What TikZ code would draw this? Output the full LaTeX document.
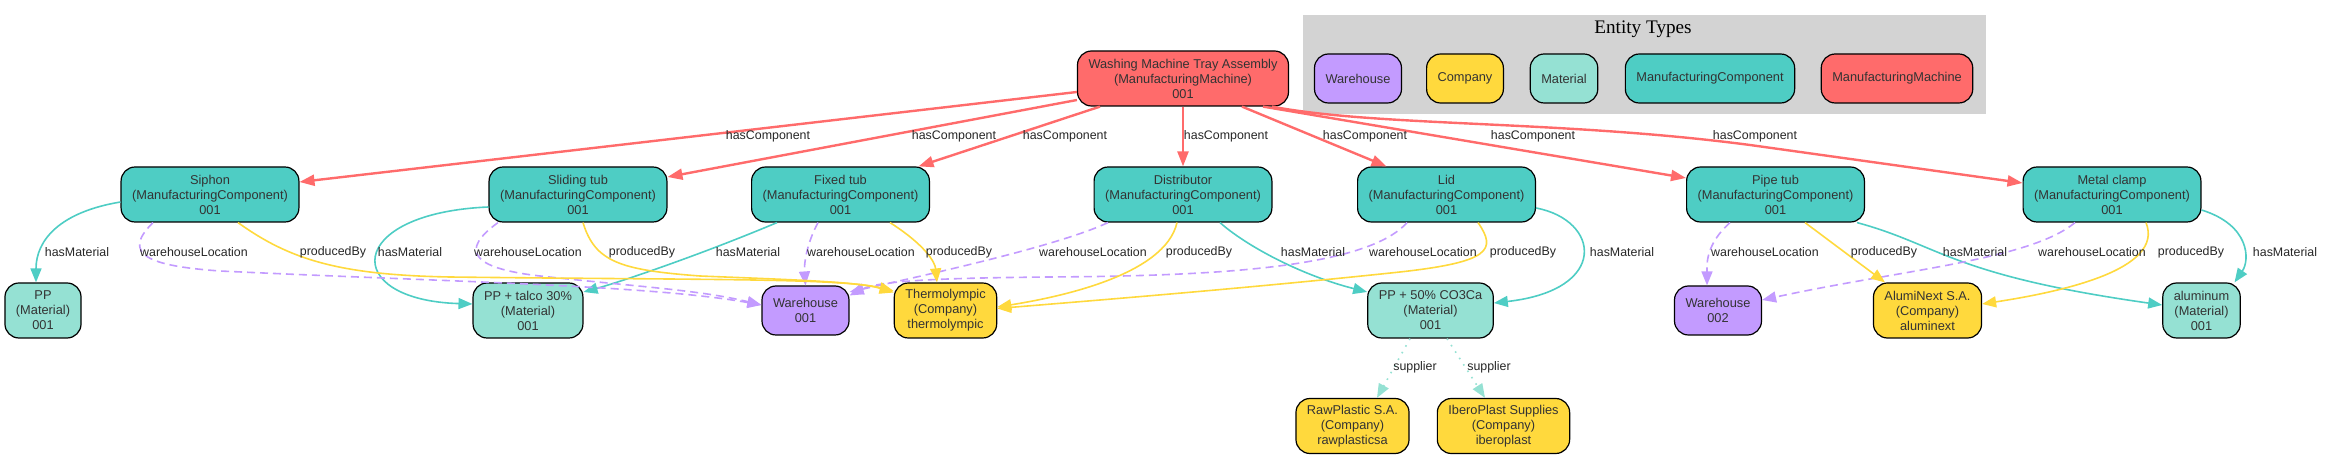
\documentclass[tikz,border=0pt]{standalone}
\usepackage{fontspec}
\setmainfont{Liberation Sans}
\newfontfamily\titleserif{Liberation Serif}
\usetikzlibrary{arrows.meta}
\definecolor{machinered}{HTML}{FF6B6B}
\definecolor{compteal}{HTML}{4ECDC4}
\definecolor{matgreen}{HTML}{95E1D3}
\definecolor{firmyellow}{HTML}{FFD93D}
\definecolor{storepurple}{HTML}{C39BFF}
\definecolor{legendgray}{HTML}{D3D3D3}
\definecolor{textgray}{HTML}{333333}
\newcommand\entfont{\fontsize{6.4}{7.5}\selectfont}
\newcommand\lblfont{\fontsize{6.2}{7}\selectfont}

\tikzset{
  entity/.style={draw=black, line width=0.6pt, rounded corners=7pt, align=center,
    font=\entfont, text=textgray, inner xsep=5.5pt, inner ysep=0pt, minimum height=27.5pt},
  machine/.style={entity, fill=machinered},
  part/.style={entity, fill=compteal},
  material/.style={entity, fill=matgreen},
  firm/.style={entity, fill=firmyellow},
  store/.style={entity, fill=storepurple, minimum height=24.5pt},
  lbl/.style={font=\lblfont, text=black!85, inner sep=0.5pt},
  hascomp/.style={draw=machinered, line width=1.2pt, -{Triangle[length=7.5pt,width=5.5pt]}},
  hasmat/.style={draw=compteal, line width=0.8pt, -{Triangle[length=7pt,width=5.5pt]}},
  whloc/.style={draw=storepurple, line width=0.8pt, dash pattern=on 4pt off 2.5pt, -{Triangle[length=7pt,width=5.5pt]}},
  prodby/.style={draw=firmyellow, line width=0.8pt, -{Triangle[length=7pt,width=5.5pt]}},
  suppl/.style={draw=matgreen, line width=0.8pt, dash pattern=on 0.8pt off 3pt, -{Triangle[length=7pt,width=5.5pt]}},
}

\begin{document}
\begin{tikzpicture}[x=0.5pt,y=-0.5pt]
\useasboundingbox (0,0) rectangle (2325,459);

% Legend
\fill[legendgray] (1303,15) rectangle (1986,114);
\node[font={\titleserif\fontsize{9.6}{11}\selectfont}, text=black] (lgtitle) at (1643,29) {Entity Types};
\foreach \s/\x/\t in {store/1358/Warehouse, firm/1465/Company, material/1564/Material,
    part/1710/ManufacturingComponent, machine/1897/ManufacturingMachine} {
    \node[\s, minimum height=24.5pt] (lg\s) at (\x,78.5) {\t};
}

% Machine and its components
\node[machine] (root) at (1183,78.5) {Washing Machine Tray Assembly\\(ManufacturingMachine)\\001};
\foreach \n/\x/\t in {siphon/210/Siphon, sliding/578/Sliding tub, fixed/840.5/Fixed tub,
    distrib/1183/Distributor, lid/1446.5/Lid, pipe/1775.5/Pipe tub, clamp/2112/Metal clamp} {
    \node[part] (\n) at (\x,194.5) {\t\\(ManufacturingComponent)\\001};
}

% Materials, warehouses, companies
\node[material] (pp) at (43,310.5) {PP\\(Material)\\001};
\node[material] (pptalc) at (528,310.5) {PP + talco 30\%\\(Material)\\001};
\node[store] (wh1) at (805.5,310.5) {Warehouse\\001};
\node[firm] (thermo) at (945.5,310.5) {Thermolympic\\(Company)\\thermolympic};
\node[material] (ppco) at (1430.5,310.5) {PP + 50\% CO3Ca\\(Material)\\001};
\node[store] (wh2) at (1718,310.5) {Warehouse\\002};
\node[firm] (alumi) at (1927.5,310.5) {AlumiNext S.A.\\(Company)\\aluminext};
\node[material] (alu) at (2201.5,310.5) {aluminum\\(Material)\\001};
\node[firm] (rawpl) at (1352.5,426) {RawPlastic S.A.\\(Company)\\rawplasticsa};
\node[firm] (ibero) at (1503.5,426) {IberoPlast Supplies\\(Company)\\iberoplast};

% hasComponent
\draw[hascomp] ([yshift=-6.75pt]root.west) -- ([yshift=6.25pt]siphon.east);
\draw[hascomp] ([yshift=-10.75pt]root.west) -- ([yshift=8.75pt]sliding.east);
\draw[hascomp] ([xshift=-41.5pt]root.south) -- ([xshift=39pt]fixed.north);
\draw[hascomp] (root) -- (distrib);
\draw[hascomp] ([xshift=29.5pt]root.south) -- ([xshift=-30pt]lid.north);
\draw[hascomp] ([xshift=40pt]root.south) -- ([yshift=8.25pt]pipe.west);
\draw[hascomp] ([xshift=44.5pt]root.south) .. controls (1380,127) and (1560,120) .. (1750,145) -- ([yshift=5.75pt]clamp.west);

% hasMaterial
\draw[hasmat] ([yshift=-3.75pt]siphon.west) .. controls (60,212) and (36,240) .. ([xshift=-3.5pt]pp.north);
\draw[hasmat] ([yshift=-6.25pt]sliding.west) .. controls (345,213) and (340,300) .. ([yshift=3.25pt]pptalc.west);
\draw[hasmat] ([xshift=-31.75pt]fixed.south) .. controls (700,255) and (620,282) .. ([yshift=9.25pt]pptalc.east);
\draw[hasmat] ([xshift=18.5pt]distrib.south) .. controls (1245,245) and (1300,275) .. ([yshift=9.25pt]ppco.west);
\draw[hasmat] ([yshift=-6.75pt]lid.east) .. controls (1600,220) and (1610,290) .. ([yshift=3.75pt]ppco.east);
\draw[hasmat] ([xshift=40.75pt]pipe.south) .. controls (1940,245) and (1950,275) .. ([yshift=2.75pt]alu.west);
\draw[hasmat] ([yshift=-7.75pt]clamp.east) .. controls (2250,225) and (2250,260) .. ([xshift=16.5pt]alu.north);

% warehouseLocation
\draw[whloc] ([xshift=-28.5pt]siphon.south) .. controls (120,255) and (150,266) .. (220,271) .. controls (450,282) and (650,285) .. ([yshift=2.75pt]wh1.west);
\draw[whloc] ([xshift=-40pt]sliding.south) .. controls (460,250) and (470,268) .. (540,276) .. controls (640,287) and (700,290) .. ([yshift=2.75pt]wh1.west);
\draw[whloc] ([xshift=-11.25pt]fixed.south) .. controls (806,245) and (804,265) .. (wh1.north);
\draw[whloc] ([xshift=-37.5pt]distrib.south) .. controls (1060,245) and (940,272) .. ([yshift=9.25pt]wh1.east);
\draw[whloc] ([xshift=-19.75pt]lid.south) .. controls (1365,270) and (1200,276) .. (1050,277) .. controls (950,278) and (880,280) .. ([yshift=7.5pt]wh1.east);
\draw[whloc] ([xshift=-22.75pt]pipe.south) .. controls (1705,245) and (1707,265) .. ([xshift=-5.5pt]wh2.north);
\draw[whloc] ([xshift=-18.5pt]clamp.south) .. controls (2030,260) and (1900,270) .. ([yshift=5.25pt]wh2.east);

% producedBy
\draw[prodby] ([xshift=14pt]siphon.south) .. controls (290,260) and (340,275) .. (450,277) .. controls (700,280) and (840,278) .. ([yshift=9.75pt]thermo.west);
\draw[prodby] ([xshift=2.5pt]sliding.south) .. controls (595,262) and (620,270) .. (700,276) .. controls (800,280) and (860,282) .. ([yshift=9pt]thermo.west);
\draw[prodby] ([xshift=24.75pt]fixed.south) .. controls (925,245) and (935,262) .. ([xshift=-4.25pt]thermo.north);
\draw[prodby] ([xshift=-3pt]distrib.south) .. controls (1165,275) and (1060,297) .. ([yshift=1.75pt]thermo.east);
\draw[prodby] ([xshift=15.75pt]lid.south) .. controls (1497,250) and (1490,262) .. (1400,272) .. controls (1250,288) and (1100,300) .. ([yshift=1pt]thermo.east);
\draw[prodby] ([xshift=14.75pt]pipe.south) -- ([xshift=-21.25pt]alumi.north);
\draw[prodby] ([xshift=17pt]clamp.south) .. controls (2165,270) and (2060,292) .. ([yshift=3.25pt]alumi.east);

% supplier
\draw[suppl] ([xshift=-10.25pt]ppco.south) -- ([xshift=12.25pt]rawpl.north);
\draw[suppl] ([xshift=8.25pt]ppco.south) -- ([xshift=-9.25pt]ibero.north);

% Edge labels
\foreach \x [count=\i] in {768,954,1065,1226,1365,1533,1755} {
    \node[lbl] (hc\i) at (\x,136) {hasComponent};
}
\foreach \x/\t [count=\i] in {77/hasMaterial, 194/warehouseLocation, 333/producedBy,
    410/hasMaterial, 528/warehouseLocation, 642/producedBy, 748/hasMaterial,
    861/warehouseLocation, 959/producedBy, 1093/warehouseLocation, 1199/producedBy,
    1313/hasMaterial, 1423/warehouseLocation, 1523/producedBy, 1622/hasMaterial,
    1765/warehouseLocation, 1884/producedBy, 1975/hasMaterial, 2092/warehouseLocation,
    2191/producedBy, 2285/hasMaterial} {
    \node[lbl] (rl\i) at (\x,252) {\t};
}
\node[lbl] (sp1) at (1415,367) {supplier};
\node[lbl] (sp2) at (1489,367) {supplier};
\end{tikzpicture}
\end{document}
